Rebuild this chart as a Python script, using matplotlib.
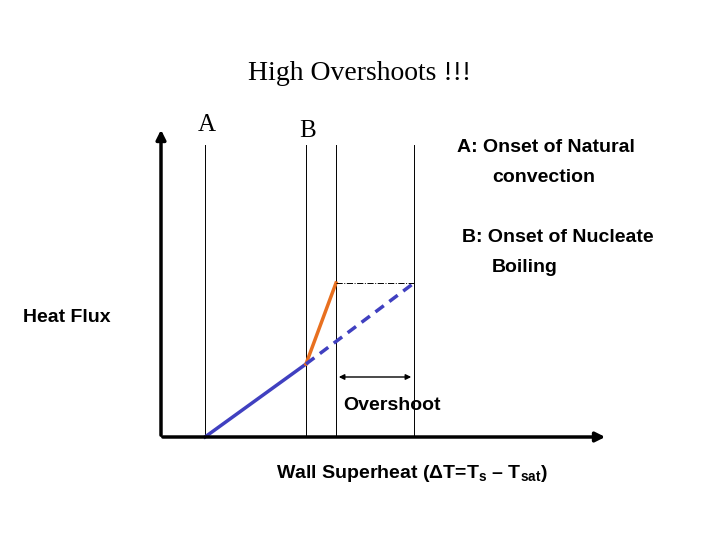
import matplotlib
matplotlib.use("Agg")
import matplotlib.pyplot as plt

# diagram data (pixel-space of the slide)
vlines_x = [205, 306, 336, 414]
vline_top, axis_y, axis_x0 = 145, 437, 161
natural_x = [205, 306]; natural_y = [437, 364]
onb_x = [306, 336]; onb_y = [364, 283]
dashed_x = [306, 414]; dashed_y = [364, 283]
level_x = [336, 414]; level_y = [283, 283]
overshoot_x = [336, 414]; overshoot_y = 377

plt.rcParams['font.family'] = ['Liberation Serif', 'DejaVu Serif']
plt.rcParams['mathtext.fontset'] = 'custom'
plt.rcParams['mathtext.rm'] = 'Liberation Sans:bold'
plt.rcParams['mathtext.bf'] = 'Liberation Sans:bold'
plt.rcParams['mathtext.it'] = 'Liberation Sans:bold'
sans = ['Liberation Sans', 'DejaVu Sans']
fig = plt.figure(figsize=(7.2, 5.4), dpi=100)
ax = fig.add_axes([0, 0, 1, 1])
ax.set_xlim(0, 720); ax.set_ylim(540, 0); ax.axis('off')

for x in vlines_x:
    ax.plot([x, x], [vline_top, axis_y], color='black', lw=0.7)
ax.annotate('', xy=(axis_x0, 127), xytext=(axis_x0, axis_y + 1),
            arrowprops=dict(arrowstyle='-|>', lw=2.5, color='black', mutation_scale=14))
ax.annotate('', xy=(608, axis_y), xytext=(axis_x0 - 1, axis_y),
            arrowprops=dict(arrowstyle='-|>', lw=2.5, color='black', mutation_scale=14))
ax.plot(natural_x, natural_y, color='#4040c0', lw=2.5)
ax.plot(onb_x, onb_y, color='#e87020', lw=2.5)
ax.plot(dashed_x, dashed_y, color='#4040c0', lw=2.5, ls=(0, (3, 2)))
ax.plot(level_x, level_y, color='black', lw=0.7, ls='-.')
ax.annotate('', xy=(overshoot_x[0], overshoot_y), xytext=(overshoot_x[1], overshoot_y),
            arrowprops=dict(arrowstyle='<|-|>', lw=1, color='black', mutation_scale=8))

ax.text(360, 73, 'High Overshoots !!!', fontsize=20, ha='center', va='center')
ax.text(207, 125, 'A', fontsize=18, ha='center', va='center')
ax.text(308, 131, 'B', fontsize=18, ha='center', va='center')
kw = dict(fontsize=14, fontweight='bold', va='center', family=sans)
ax.text(457, 148, 'A: Onset of Natural', **kw)
ax.text(492, 178, 'convection', **kw)
ax.text(462, 238, 'B: Onset of Nucleate', **kw)
ax.text(492, 268, 'Boiling', **kw)
ax.text(23, 317, 'Heat Flux', **kw)
ax.text(343, 406, 'Overshoot', **kw)
ax.text(276, 473, r'Wall Superheat ($\Delta$T=T$_{s}$ – T$_{sat}$)', **kw)
fig.savefig('out.png', dpi=100)
